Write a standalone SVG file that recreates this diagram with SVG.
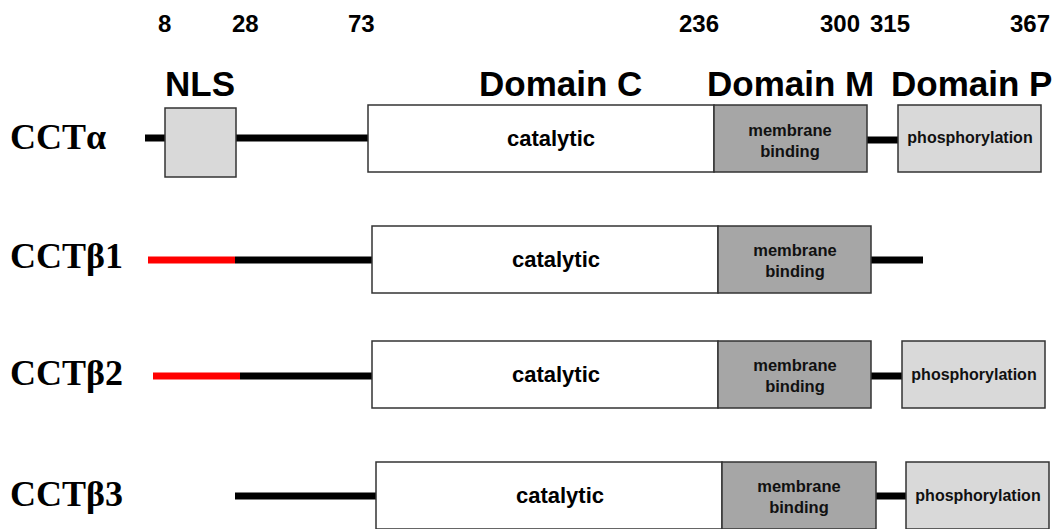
<svg xmlns="http://www.w3.org/2000/svg" width="1058" height="529" viewBox="0 0 1058 529">
<style>
.num{font-family:"Liberation Sans",Arial,sans-serif;font-weight:bold;font-size:24px;fill:#000}
.dom{font-family:"Liberation Sans",Arial,sans-serif;font-weight:bold;font-size:35px;fill:#000}
.lab{font-family:"Liberation Serif","Times New Roman",serif;font-weight:bold;font-size:36px;fill:#000}
.cat{font-family:"Liberation Sans",Arial,sans-serif;font-weight:bold;font-size:22px;fill:#000;text-anchor:middle}
.mem{font-family:"Liberation Sans",Arial,sans-serif;font-weight:bold;font-size:16.5px;fill:#111;text-anchor:middle}
.pho{font-family:"Liberation Sans",Arial,sans-serif;font-weight:bold;font-size:16px;fill:#111;text-anchor:middle}
.box{stroke:#333;stroke-width:1.5}
.c{fill:#fff}
.m{fill:#a6a6a6}
.p{fill:#d9d9d9}
.bk{stroke:#000;stroke-width:7;fill:none}
.rd{stroke:#ff0000;stroke-width:7;fill:none}
</style>
<g id="scale">
<text class="num" x="158" y="32">8</text>
<text class="num" x="232" y="32">28</text>
<text class="num" x="348" y="32">73</text>
<text class="num" x="679" y="32">236</text>
<text class="num" x="820" y="32">300</text>
<text class="num" x="870" y="32">315</text>
<text class="num" x="1010" y="32">367</text>
</g>
<g id="headers">
<text class="dom" x="165" y="96">NLS</text>
<text class="dom" x="479" y="96">Domain C</text>
<text class="dom" x="707" y="96">Domain M</text>
<text class="dom" x="891" y="96">Domain P</text>
</g>
<g id="connectors">
<line class="bk" x1="145" y1="138" x2="368" y2="138"/>
<line class="bk" x1="867" y1="140" x2="898" y2="140"/>
<line class="rd" x1="148" y1="260" x2="235" y2="260"/>
<line class="bk" x1="235" y1="260" x2="372" y2="260"/>
<line class="bk" x1="871" y1="260" x2="923" y2="260"/>
<line class="rd" x1="153" y1="376" x2="240" y2="376"/>
<line class="bk" x1="240" y1="376" x2="372" y2="376"/>
<line class="bk" x1="871" y1="376" x2="902" y2="376"/>
<line class="bk" x1="235" y1="496" x2="376" y2="496"/>
<line class="bk" x1="876" y1="496" x2="906" y2="496"/>
</g>
<g id="row-alpha">
<text class="lab" x="10" y="149">CCTα</text>
<rect id="a-nls" class="box p" x="165" y="108" width="71" height="69"/>
<rect id="a-cat" class="box c" x="368" y="105" width="346" height="67"/>
<text class="cat" x="551" y="146">catalytic</text>
<rect id="a-mem" class="box m" x="714" y="105" width="153" height="67"/>
<text class="mem" x="790" y="136">membrane</text>
<text class="mem" x="790" y="157">binding</text>
<rect id="a-pho" class="box p" x="898" y="105" width="143" height="67"/>
<text class="pho" x="970" y="143">phosphorylation</text>
</g>
<g id="row-beta1">
<text class="lab" x="10" y="268">CCTβ1</text>
<rect id="b1-cat" class="box c" x="372" y="226" width="346" height="67"/>
<text class="cat" x="556" y="267">catalytic</text>
<rect id="b1-mem" class="box m" x="718" y="226" width="153" height="67"/>
<text class="mem" x="795" y="256">membrane</text>
<text class="mem" x="795" y="277">binding</text>
</g>
<g id="row-beta2">
<text class="lab" x="10" y="385">CCTβ2</text>
<rect id="b2-cat" class="box c" x="372" y="341" width="346" height="67"/>
<text class="cat" x="556" y="382">catalytic</text>
<rect id="b2-mem" class="box m" x="718" y="341" width="153" height="67"/>
<text class="mem" x="795" y="371">membrane</text>
<text class="mem" x="795" y="392">binding</text>
<rect id="b2-pho" class="box p" x="902" y="341" width="143" height="67"/>
<text class="pho" x="974" y="380">phosphorylation</text>
</g>
<g id="row-beta3">
<text class="lab" x="10" y="506">CCTβ3</text>
<rect id="b3-cat" class="box c" x="376" y="462" width="346" height="67"/>
<text class="cat" x="560" y="503">catalytic</text>
<rect id="b3-mem" class="box m" x="722" y="462" width="154" height="67"/>
<text class="mem" x="799" y="492">membrane</text>
<text class="mem" x="799" y="513">binding</text>
<rect id="b3-pho" class="box p" x="906" y="462" width="143" height="67"/>
<text class="pho" x="978" y="501">phosphorylation</text>
</g>
</svg>
